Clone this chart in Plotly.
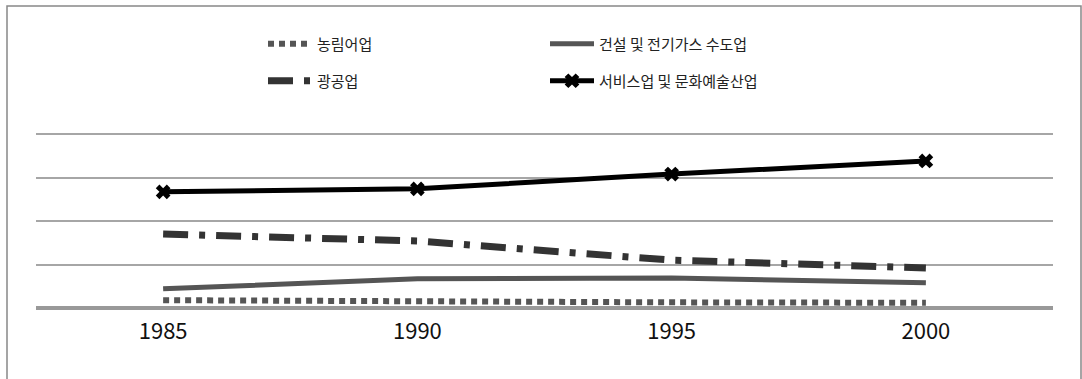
import plotly.graph_objects as go

# Census years on the category axis
years = ["1985", "1990", "1995", "2000"]

# Industry series
agri = [1.8, 1.4, 1.3, 1.2]          # 농림어업
construction = [4.4, 6.7, 6.9, 5.8]  # 건설 및 전기가스 수도업
mining = [17.0, 15.4, 11.0, 9.2]     # 광공업
services = [26.7, 27.4, 30.8, 33.8]  # 서비스업 및 문화예술산업

names = ["농림어업", "건설 및 전기가스 수도업", "광공업", "서비스업 및 문화예술산업"]

KFONT = "Noto Sans CJK KR"

fig = go.Figure()

fig.add_trace(go.Scatter(
    x=years, y=agri, name=names[0], mode="lines",
    line=dict(color="#555555", width=6, dash="6px,5px"),
    legend="legend",
))
fig.add_trace(go.Scatter(
    x=years, y=construction, name=names[1], mode="lines",
    line=dict(color="#555555", width=5),
    legend="legend2",
))
fig.add_trace(go.Scatter(
    x=years, y=mining, name=names[2], mode="lines",
    line=dict(color="#333333", width=7, dash="25px,11px,6px,11px"),
    legend="legend3",
))
fig.add_trace(go.Scatter(
    x=years, y=services, name=names[3], mode="lines+markers",
    line=dict(color="#000000", width=5),
    marker=dict(symbol="x", size=13, color="#000000"),
    legend="legend4",
))

W, H = 1082, 379
PL, PR, PT, PB = 36, 29, 130, 71
pw = W - PL - PR
ph = H - PT - PB
# 10 value units span 43.5 px; leave a little headroom above the 40 gridline
y_top = ph / 4.35


def px_x(p):
    return (p - PL) / pw


def px_y(p):
    return (H - PB - p) / ph


leg_common = dict(
    font=dict(family=KFONT, size=15, color="#222222"),
    bgcolor="rgba(0,0,0,0)",
    xanchor="left", yanchor="middle",
    itemclick=False, itemwidth=44,
)

fig.update_layout(
    width=W, height=H,
    margin=dict(l=PL, r=PR, t=PT, b=PB),
    paper_bgcolor="white", plot_bgcolor="white",
    showlegend=True,
    legend=dict(x=px_x(263), y=px_y(44), **leg_common),
    legend2=dict(x=px_x(545), y=px_y(44), **leg_common),
    legend3=dict(x=px_x(263), y=px_y(81), **leg_common),
    legend4=dict(x=px_x(545), y=px_y(81), **leg_common),
    xaxis=dict(
        type="category", range=[-0.5, 3.5],
        showgrid=False, showline=False, ticks="",
        tickfont=dict(family=KFONT, size=22, color="#111111"),
        ticklabelstandoff=8,
    ),
    yaxis=dict(
        range=[0, y_top], tickvals=[10, 20, 30, 40], showticklabels=False,
        showgrid=True, gridcolor="#a6a6a6", gridwidth=1.5,
        zeroline=True, zerolinecolor="#999999", zerolinewidth=4,
        showline=False, ticks="",
    ),
    shapes=[dict(
        type="rect", xref="paper", yref="paper",
        x0=px_x(7), x1=px_x(1081), y0=px_y(400), y1=px_y(6),
        line=dict(color="#888888", width=1.5), fillcolor="rgba(0,0,0,0)",
        layer="below",
    )],
)

fig.write_html("out.html")
